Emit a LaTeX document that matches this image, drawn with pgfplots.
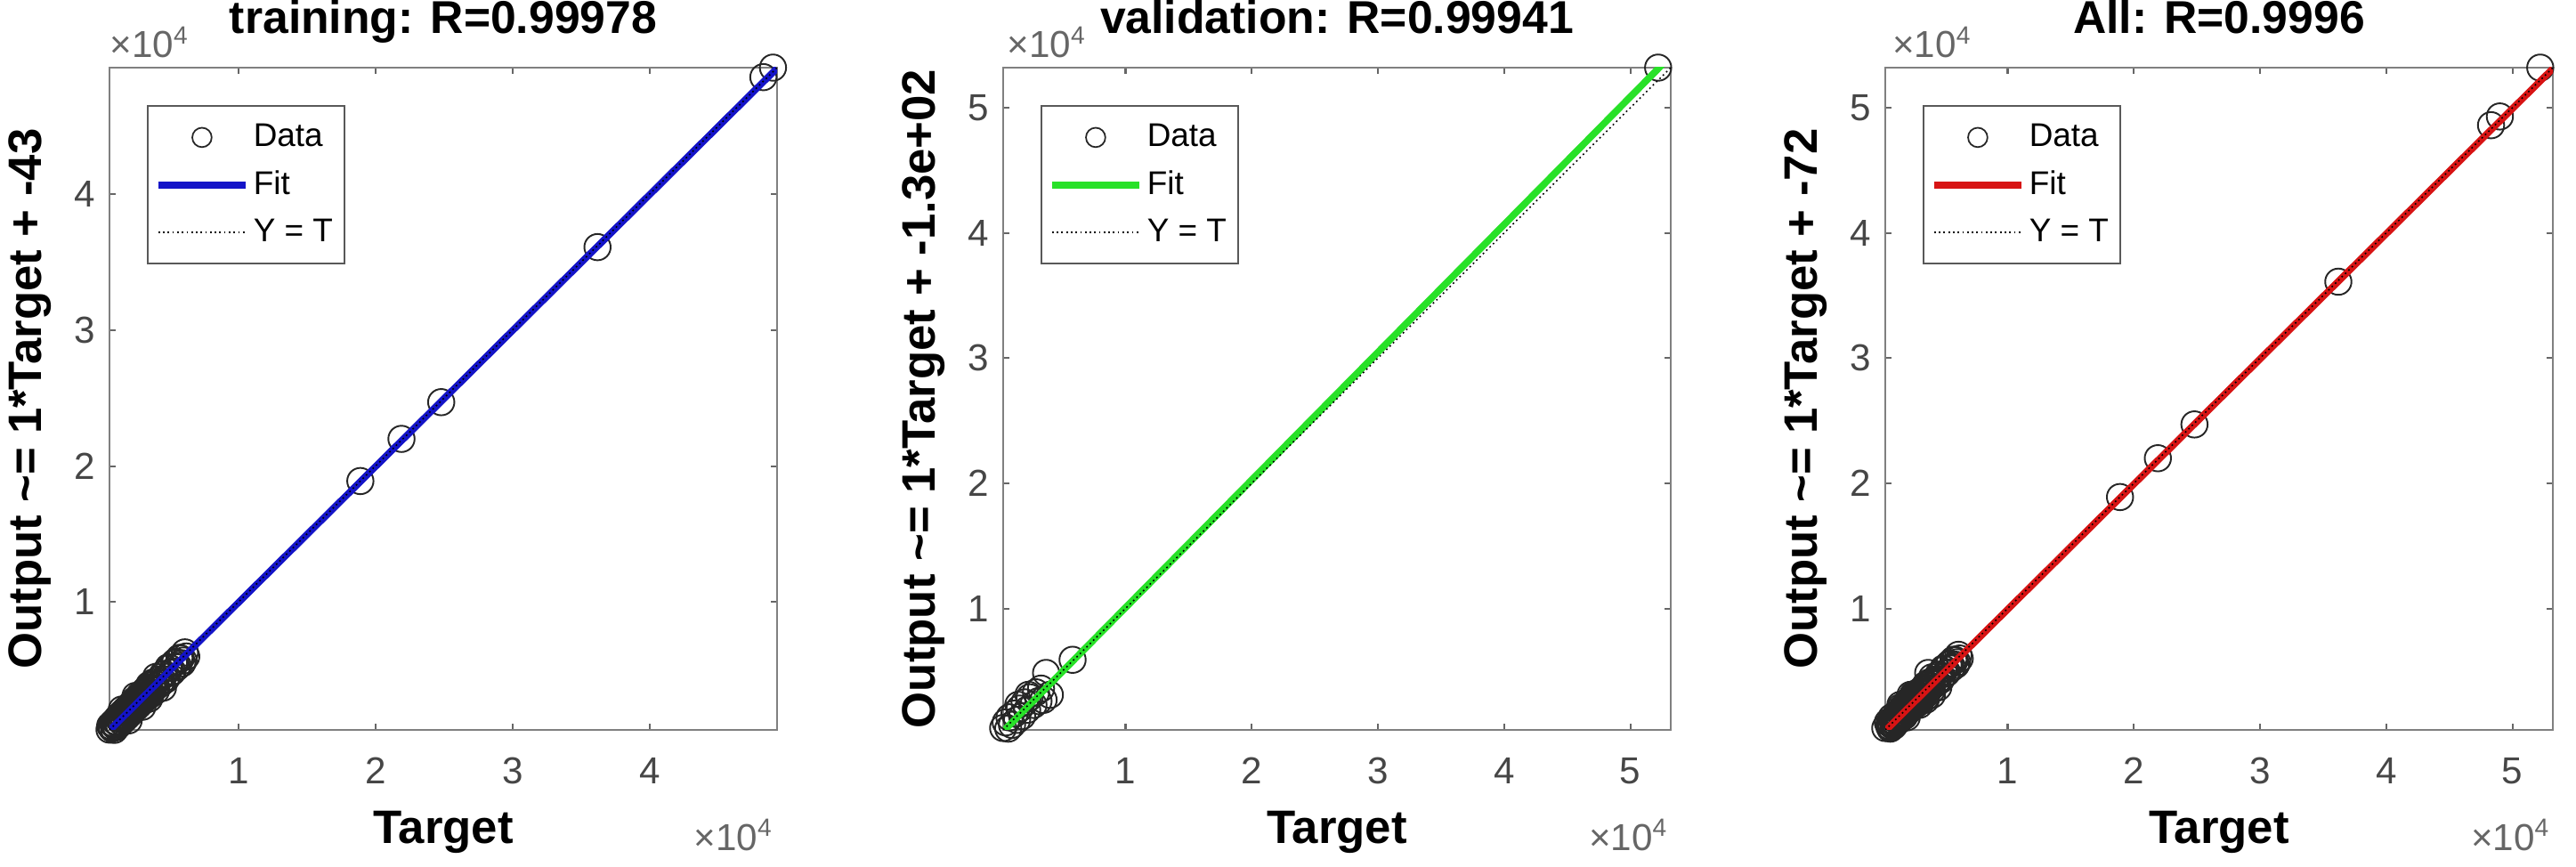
\documentclass[border=0pt]{standalone}
\usepackage{fontspec}
\setmainfont{Liberation Sans}
\usepackage{pgfplots}
\usepackage{pgfplotstable}
\pgfplotsset{compat=1.18}

\definecolor{fitblue}{RGB}{20,20,200}
\definecolor{fitgreen}{RGB}{40,225,40}
\definecolor{fitred}{RGB}{215,20,20}
\definecolor{axgray}{RGB}{128,128,128}
\definecolor{tickgray}{RGB}{70,70,70}

% training targets / outputs
\pgfplotstableread{
t o
600 620
650 900
700 500
750 820
800 700
850 1100
900 1000
950 600
1000 880
1000 1250
1100 1200
1100 800
1200 1100
1200 1500
1300 1420
1300 1000
1400 1250
1400 1700
1500 1600
1500 1200
1500 2100
1600 1480
1600 1900
1700 1850
1700 1400
1800 1680
1800 2100
1900 2000
1900 1600
2000 1850
2000 2300
2000 1300
2100 2280
2100 1800
2200 2050
2200 2500
2300 2450
2300 2000
2400 2300
2400 2750
2500 2620
2500 2200
2500 3100
2600 2450
2600 2900
2700 2900
2700 2400
2800 2700
2800 3150
2900 3080
2900 2600
3000 2850
3000 3300
3000 2300
3100 3300
3100 2800
3200 3000
3200 3500
3300 3480
3300 3000
3400 3250
3400 3700
3500 3620
3500 3900
3500 2900
3600 3400
3600 3200
3700 3880
3800 3640
3800 4100
3900 4000
4000 3780
4000 3500
4000 4500
4200 4300
4300 4000
4400 4100
4500 4700
4500 3700
4600 4700
4700 4300
4800 4500
4900 5200
5000 5150
5100 4800
5200 4900
5300 5500
5400 5600
5500 5200
5600 5300
5700 5900
5800 5850
5900 5500
6000 5700
6100 6300
6200 6000
18900 18900
21900 22000
24800 24700
36200 36100
48300 48600
49000 49300
}\trainpts

% validation targets / outputs
\pgfplotstableread{
t o
300 450
500 900
700 400
800 1300
1000 700
1200 1600
1400 1100
1500 2300
1600 2000
1800 1400
2000 2500
2200 1900
2300 3100
2400 2900
2700 2300
2900 3300
3100 2600
3300 3600
3500 2700
3700 4850
4000 3100
5800 5900
52200 53200
}\valpts

\newcommand{\lblfont}{\bfseries\fontsize{15}{17}\selectfont}
\tikzset{tenfour/.style={inner sep=0, text=black!60, font=\fontsize{12}{14}\selectfont}}

\pgfplotsset{
  regr/.style={
    scale only axis, width=7.5cm, height=7.44cm,
    clip mode=individual,
    axis line style={axgray, line width=0.8pt},
    every tick/.style={black!60, line width=0.6pt},
    major tick length=0.07cm,
    tick align=inside,
    scaled ticks=false,
    ticklabel style={font=\fontsize{12}{14}\selectfont, text=tickgray},
    xticklabel style={yshift=-0.19cm},
    yticklabel style={xshift=-0.04cm},
    title style={font=\bfseries\fontsize{14.7}{17}\selectfont, at={(axis description cs:0.5,1.024)}, anchor=base},
    xlabel=Target,
    xlabel style={font=\lblfont, at={(axis description cs:0.5,-0.171)}, anchor=base},
    ylabel style={font=\lblfont, at={(axis description cs:-0.119,0.5)}, anchor=center},
    legend style={at={(axis description cs:0.056,0.9435)}, anchor=north west,
      draw=black!65, line width=0.6pt, fill=white,
      font=\fontsize{10.5}{12}\selectfont,
      inner xsep=0.08cm, inner ysep=0.15cm, row sep=0.12cm,
      nodes={inner sep=0.05cm}},
    legend cell align=left,
  },
  datapts/.style={only marks, mark=o, mark size=4.2pt,
    mark options={draw=black!85, line width=0.55pt},
    legend image code/.code={
      \path (0cm,0cm) (0.98cm,0cm);
      \draw[black!85, line width=0.5pt] (0.49cm,0cm) circle (3.1pt);}},
  fitline/.style={line width=2.2pt, #1,
    legend image code/.code={\draw[##1] (0cm,0cm) -- (0.98cm,0cm);}},
  idline/.style={black, line width=0.45pt, dash pattern=on 0.5pt off 1pt,
    legend image code/.code={\draw[##1] (0cm,0cm) -- (0.98cm,0cm);}},
}

\begin{document}
\begin{tikzpicture}
\useasboundingbox (0,0) rectangle (28.94,9.74);

% training
\begin{axis}[regr, at={(1.23cm,1.54cm)}, anchor=south west,
  xmin=600, xmax=49300, ymin=600, ymax=49300,
  xtick={10000,20000,30000,40000}, xticklabels={1,2,3,4},
  ytick={10000,20000,30000,40000}, yticklabels={1,2,3,4},
  title={training: R=0.99978},
  ylabel={Output \textasciitilde= 1*Target + -43}]
\addplot[datapts] table[x=t, y=o] {\trainpts};
\addlegendentry{Data}
\addplot[fitline=fitblue] coordinates {(600,557) (49300,49257)};
\addlegendentry{Fit}
\addplot[idline] coordinates {(600,600) (49300,49300)};
\addlegendentry{Y = T}
\node[tenfour, anchor=base west] at (axis description cs:0,1.015) {×10\textsuperscript{4}};
\node[tenfour, anchor=base east] at (axis description cs:0.995,-0.1815) {×10\textsuperscript{4}};
\end{axis}

% validation
\begin{axis}[regr, at={(11.27cm,1.54cm)}, anchor=south west,
  xmin=300, xmax=53200, ymin=300, ymax=53200,
  xtick={10000,20000,30000,40000,50000}, xticklabels={1,2,3,4,5},
  ytick={10000,20000,30000,40000,50000}, yticklabels={1,2,3,4,5},
  title={validation: R=0.99941},
  ylabel={Output \textasciitilde= 1*Target + -1.3e+02}]
\addplot[datapts] table[x=t, y=o] {\valpts};
\addlegendentry{Data}
\addplot[fitline=fitgreen] coordinates {(300,176) (53200,54134)};
\addlegendentry{Fit}
\addplot[idline] coordinates {(300,300) (53200,53200)};
\addlegendentry{Y = T}
\node[tenfour, anchor=base west] at (axis description cs:0.005,1.015) {×10\textsuperscript{4}};
\node[tenfour, anchor=base east] at (axis description cs:0.997,-0.1815) {×10\textsuperscript{4}};
\end{axis}

% all
\begin{axis}[regr, at={(21.18cm,1.54cm)}, anchor=south west,
  xmin=300, xmax=53200, ymin=300, ymax=53200,
  xtick={10000,20000,30000,40000,50000}, xticklabels={1,2,3,4,5},
  ytick={10000,20000,30000,40000,50000}, yticklabels={1,2,3,4,5},
  title={All: R=0.9996},
  ylabel={Output \textasciitilde= 1*Target + -72}]
\addplot[datapts] table[x=t, y=o] {\trainpts};
\addlegendentry{Data}
\addplot[datapts, forget plot] table[x=t, y=o] {\valpts};
\addplot[fitline=fitred] coordinates {(300,228) (53200,53128)};
\addlegendentry{Fit}
\addplot[idline] coordinates {(300,300) (53200,53200)};
\addlegendentry{Y = T}
\node[tenfour, anchor=base west] at (axis description cs:0.01,1.015) {×10\textsuperscript{4}};
\node[tenfour, anchor=base east] at (axis description cs:0.997,-0.1815) {×10\textsuperscript{4}};
\end{axis}
\end{tikzpicture}
\end{document}
